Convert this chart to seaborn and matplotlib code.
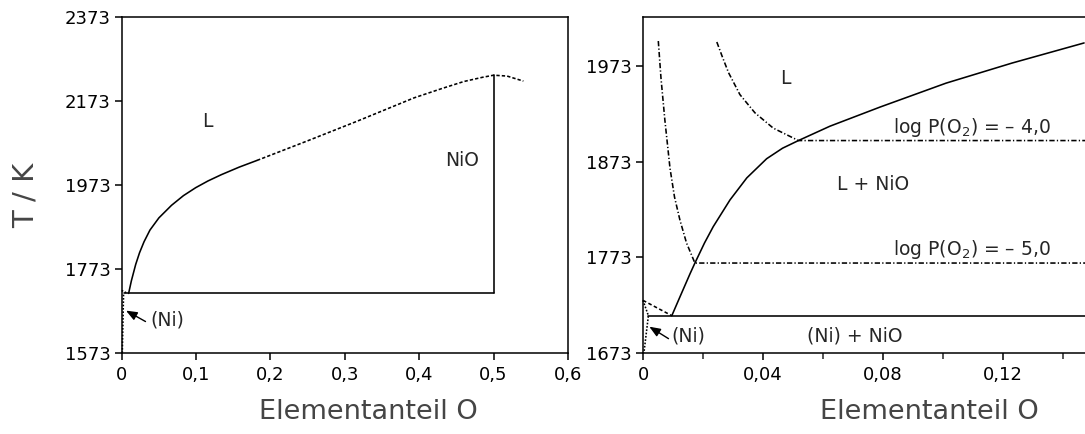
import matplotlib
matplotlib.use("Agg")
import matplotlib.pyplot as plt
from matplotlib.ticker import FixedLocator
import seaborn as sns

# ---------------- data: left panel (full diagram) ----------------
L_liq_solid_x = [0.0093, 0.013, 0.0188, 0.024, 0.030, 0.038, 0.050, 0.067,
                 0.083, 0.0995, 0.116, 0.134, 0.158, 0.182]
L_liq_solid_T = [1715, 1745, 1784, 1812, 1838, 1866, 1895, 1925,
                 1948, 1967, 1983, 1998, 2016, 2032]
L_liq_dot_x = [0.182, 0.249, 0.316, 0.393, 0.430, 0.460, 0.485, 0.500, 0.518, 0.540]
L_liq_dot_T = [2032, 2078, 2125, 2181, 2203, 2220, 2230, 2235, 2233, 2221]
L_nio_x = [0.5, 0.5]
L_nio_T = [1715, 2235]
L_eut_x = [0.003, 0.5]
L_eut_T = [1715, 1715]
L_solvus_x = [0.0008, 0.0025]
L_solvus_T = [1573, 1715]
L_ext_x = [0.0, 0.0067]
L_ext_T = [1722, 1716]
L_xticks = [0, 0.1, 0.2, 0.3, 0.4, 0.5, 0.6]
L_xticklabels = ["0", "0,1", "0,2", "0,3", "0,4", "0,5", "0,6"]
L_yticks = [1573, 1773, 1973, 2173, 2373]

# ---------------- data: right panel (detail) ----------------
R_liq_x = [0.0096, 0.0125, 0.0157, 0.0173, 0.0205, 0.0234, 0.029, 0.0346, 0.0412,
           0.0465, 0.0518, 0.0623, 0.079, 0.101, 0.123, 0.147]
R_liq_T = [1712, 1733, 1756, 1767, 1788, 1805, 1833, 1856, 1876,
           1887, 1895, 1910, 1930, 1955, 1976, 1997]
R_eut_x = [0.0018, 0.15]
R_eut_T = [1712, 1712]
R_dash_x = [0.0, 0.0096]
R_dash_T = [1728, 1712]
R_solvus_x = [0.0, 0.0018, 0.0003]
R_solvus_T = [1728, 1712, 1673]
R_iso5_x = [0.0051, 0.006, 0.0073, 0.009, 0.0105, 0.0123, 0.0145, 0.0173, 0.15]
R_iso5_T = [1999, 1960, 1916, 1866, 1836, 1812, 1788, 1767, 1767]
R_iso4_x = [0.0246, 0.0265, 0.0285, 0.0323, 0.0373, 0.0434, 0.0518, 0.15]
R_iso4_T = [1998, 1982, 1966, 1943, 1924, 1908, 1895, 1895]
R_xticks = [0, 0.04, 0.08, 0.12]
R_xticklabels = ["0", "0,04", "0,08", "0,12"]
R_xminor = [0.02, 0.06, 0.10, 0.14]
R_yticks = [1673, 1773, 1873, 1973]

# ---------------- style ----------------
sns.set_theme(style="ticks")
plt.rcParams["font.family"] = ["DejaVu Sans"]
plt.rcParams["lines.scale_dashes"] = False
plt.rcParams["mathtext.default"] = "regular"
plt.rcParams["axes.edgecolor"] = "black"
plt.rcParams["axes.linewidth"] = 1.1

LABCOL = "#454545"
LW = 1.15

fig = plt.figure(figsize=(10.85, 4.34), dpi=100)
W, H = 1085.0, 434.0
axL = fig.add_axes([121.7 / W, (H - 353) / H, (568 - 121.7) / W, (353 - 17.3) / H])
axR = fig.add_axes([643 / W, (H - 353) / H, (1085 - 643) / W, (353 - 17.3) / H])


def draw(ax, xs, ys, ls="-", clip=True):
    sns.lineplot(x=xs, y=ys, ax=ax, color="black", sort=False, estimator=None,
                 lw=LW, linestyle=ls, clip_on=clip)


DOT = (0, (2.4, 1.5))
FINEDOT = (0, (1.2, 1.2))
DASH = (0, (2.6, 1.8))
DASHDOT = (0, (3.8, 1.6, 0.9, 1.6))

# left panel lines
draw(axL, L_liq_solid_x, L_liq_solid_T)
draw(axL, L_liq_dot_x, L_liq_dot_T, DOT, clip=False)
draw(axL, L_nio_x, L_nio_T)
draw(axL, L_eut_x, L_eut_T)
draw(axL, L_solvus_x, L_solvus_T, FINEDOT, clip=False)
draw(axL, L_ext_x, L_ext_T, FINEDOT, clip=False)

axL.set_xlim(0, 0.6)
axL.set_ylim(1573, 2373)
axL.xaxis.set_major_locator(FixedLocator(L_xticks))
axL.set_xticklabels(L_xticklabels)
axL.yaxis.set_major_locator(FixedLocator(L_yticks))
axL.set_yticklabels([str(v) for v in L_yticks])

axL.text(0.115, 2125, "L", fontsize=13.5, ha="center", va="center")
axL.text(0.458, 2031, "NiO", fontsize=13.5, ha="center", va="center")
axL.text(0.038, 1652, "(Ni)", fontsize=13.5, ha="left", va="center")
axL.annotate("", xy=(0.0058, 1674), xytext=(0.032, 1648),
             arrowprops=dict(arrowstyle="-|>,head_length=0.55,head_width=0.22",
                             color="black", lw=1.0, shrinkA=0, shrinkB=0))

axL.set_xlabel("Elementanteil O", fontsize=19.5, color=LABCOL)
axL.xaxis.set_label_coords(0.552, -0.175)
axL.xaxis.label.set_va("center")
axL.set_ylabel("T / K", fontsize=21, color=LABCOL)
axL.yaxis.set_label_coords(-0.215, 0.47)
axL.yaxis.label.set_va("center")

# right panel lines
draw(axR, R_liq_x, R_liq_T)
draw(axR, R_eut_x, R_eut_T)
draw(axR, R_dash_x, R_dash_T, DASH, clip=False)
draw(axR, R_solvus_x, R_solvus_T, FINEDOT, clip=False)
draw(axR, R_iso5_x, R_iso5_T, DASHDOT)
draw(axR, R_iso4_x, R_iso4_T, DASHDOT)

axR.set_xlim(0, 0.1473)
axR.set_ylim(1673, 2023.8)
axR.xaxis.set_major_locator(FixedLocator(R_xticks))
axR.set_xticklabels(R_xticklabels)
axR.xaxis.set_minor_locator(FixedLocator(R_xminor))
axR.yaxis.set_major_locator(FixedLocator(R_yticks))
axR.set_yticklabels([str(v) for v in R_yticks])
axR.spines["right"].set_visible(False)

axR.text(0.0473, 1960, "L", fontsize=13.5, ha="center", va="center")
axR.text(0.0768, 1849, "L + NiO", fontsize=13.5, ha="center", va="center")
axR.text(0.0705, 1691, "(Ni) + NiO", fontsize=13.5, ha="center", va="center")
axR.text(0.1096, 1903, "log P(O$_2$) = \u2013 4,0", fontsize=13.5, ha="center", va="baseline")
axR.text(0.1096, 1775, "log P(O$_2$) = \u2013 5,0", fontsize=13.5, ha="center", va="baseline")
axR.text(0.0095, 1691, "(Ni)", fontsize=13.5, ha="left", va="center")
axR.annotate("", xy=(0.0021, 1700.5), xytext=(0.0085, 1688),
             arrowprops=dict(arrowstyle="-|>,head_length=0.55,head_width=0.22",
                             color="black", lw=1.0, shrinkA=0, shrinkB=0))

axR.set_xlabel("Elementanteil O", fontsize=19.5, color=LABCOL)
axR.xaxis.set_label_coords(0.647, -0.175)
axR.xaxis.label.set_va("center")

for ax in (axL, axR):
    ax.tick_params(axis="both", which="major", direction="out", length=5, width=1.1,
                   color="black", labelcolor="black", pad=3, labelsize=13)
    ax.tick_params(axis="x", which="both", pad=4)
    ax.tick_params(axis="x", which="minor", direction="out", length=4, width=1.1)

fig.savefig("out.png", dpi=100)
